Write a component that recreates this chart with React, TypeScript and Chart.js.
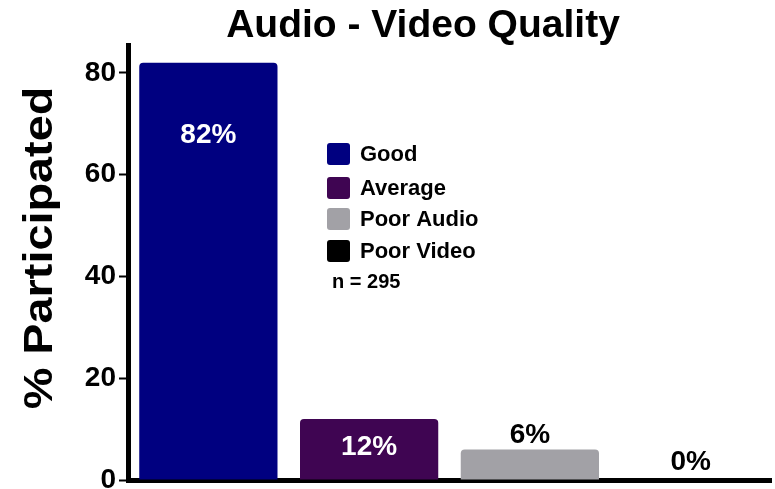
import React, { useEffect, useRef } from "react";
import { Chart, registerables } from "chart.js";

Chart.register(...registerables);

const categories = ["Good", "Average", "Poor Audio", "Poor Video"];
const values = [82, 12, 6, 0];
const valueLabels = ["82%", "12%", "6%", "0%"];
const barColors = ["#000080", "#3f0552", "#a2a1a6", "#000000"];
const labelColors = ["#ffffff", "#ffffff", "#000000", "#000000"];
const labelOffsets = [72, 28, -14, -18];
const yTicks = [0, 20, 40, 60, 80];
const titleText = "Audio - Video Quality";
const yTitle = "% Participated";
const noteText = "n = 295";

const FONT = "'Liberation Sans', Arial, sans-serif";

function roundRect(ctx: CanvasRenderingContext2D, x: number, y: number, w: number, h: number, r: number) {
  ctx.beginPath();
  ctx.moveTo(x + r, y);
  ctx.lineTo(x + w - r, y);
  ctx.quadraticCurveTo(x + w, y, x + w, y + r);
  ctx.lineTo(x + w, y + h - r);
  ctx.quadraticCurveTo(x + w, y + h, x + w - r, y + h);
  ctx.lineTo(x + r, y + h);
  ctx.quadraticCurveTo(x, y + h, x, y + h - r);
  ctx.lineTo(x, y + r);
  ctx.quadraticCurveTo(x, y, x + r, y);
  ctx.closePath();
}

const decorPlugin = {
  id: "decor",
  afterDatasetsDraw(chart: any) {
    const ctx: CanvasRenderingContext2D = chart.ctx;
    ctx.save();
    // Title
    ctx.fillStyle = "#000";
    ctx.font = `bold 39px ${FONT}`;
    ctx.textAlign = "center";
    ctx.textBaseline = "alphabetic";
    ctx.fillText(titleText, 423, 37);

    // Y title
    ctx.save();
    ctx.translate(52, 248);
    ctx.rotate(-Math.PI / 2);
    ctx.scale(1.17, 1);
    ctx.font = `bold 40px ${FONT}`;
    ctx.textAlign = "center";
    ctx.textBaseline = "alphabetic";
    ctx.fillText(yTitle, 0, 0);
    ctx.restore();

    // Value labels
    const meta = chart.getDatasetMeta(0);
    ctx.font = `bold 28px ${FONT}`;
    ctx.textAlign = "center";
    ctx.textBaseline = "middle";
    meta.data.forEach((el: any, i: number) => {
      ctx.fillStyle = labelColors[i];
      ctx.fillText(valueLabels[i], el.x, el.y + labelOffsets[i]);
    });

    // Legend
    const rowY = [154, 188, 219, 251];
    ctx.textAlign = "left";
    ctx.textBaseline = "middle";
    ctx.font = `bold 22px ${FONT}`;
    categories.forEach((c, i) => {
      ctx.fillStyle = barColors[i];
      roundRect(ctx, 327, rowY[i] - 11, 23, 22, 3);
      ctx.fill();
      ctx.fillStyle = "#000";
      ctx.fillText(c, 360, rowY[i] + 1);
    });
    ctx.font = `bold 20px ${FONT}`;
    ctx.fillText(noteText, 332, 282);
    ctx.restore();
  },
};

export default function App() {
  const ref = useRef<HTMLCanvasElement>(null);
  useEffect(() => {
    if (!ref.current) return;
    const chart = new Chart(ref.current, {
      type: "bar",
      data: {
        labels: categories,
        datasets: [
          {
            data: values,
            backgroundColor: barColors,
            borderWidth: 0,
            borderRadius: { topLeft: 4, topRight: 4, bottomLeft: 0, bottomRight: 0 },
            borderSkipped: "bottom",
            barPercentage: 0.86,
            categoryPercentage: 1,
          },
        ],
      },
      options: {
        animation: false,
        responsive: false,
        layout: { padding: { top: 45, right: 4, left: 0, bottom: 0 } },
        plugins: {
          legend: { display: false },
          title: { display: false },
          tooltip: { enabled: false },
        },
        scales: {
          x: {
            grid: { display: false },
            ticks: { display: false },
            border: { display: true, color: "#000", width: 5 },
            afterFit: (s: any) => {
              s.height = 9;
              s.paddingLeft = 0;
              s.paddingRight = 0;
            },
          },
          y: {
            min: 0,
            max: 85.5,
            afterBuildTicks: (s: any) => {
              s.ticks = yTicks.map((v) => ({ value: v }));
            },
            grid: {
              display: true,
              drawOnChartArea: false,
              drawTicks: true,
              tickLength: 9,
              tickWidth: 2,
              tickColor: "#000",
            },
            border: { display: true, color: "#000", width: 5 },
            ticks: {
              color: "#000",
              padding: 3,
              font: { family: FONT, size: 28, weight: "bold" },
            },
            afterFit: (s: any) => {
              s.width = 128;
              s.paddingTop = 0;
              s.paddingBottom = 0;
            },
          },
        },
      },
      plugins: [decorPlugin],
    });
    return () => chart.destroy();
  }, []);
  return (
    <div style={{ position: "fixed", left: 0, top: 0, width: 775, height: 489, background: "#fff" }}>
      <canvas ref={ref} width={775} height={489} style={{ display: "block" }} />
    </div>
  );
}
